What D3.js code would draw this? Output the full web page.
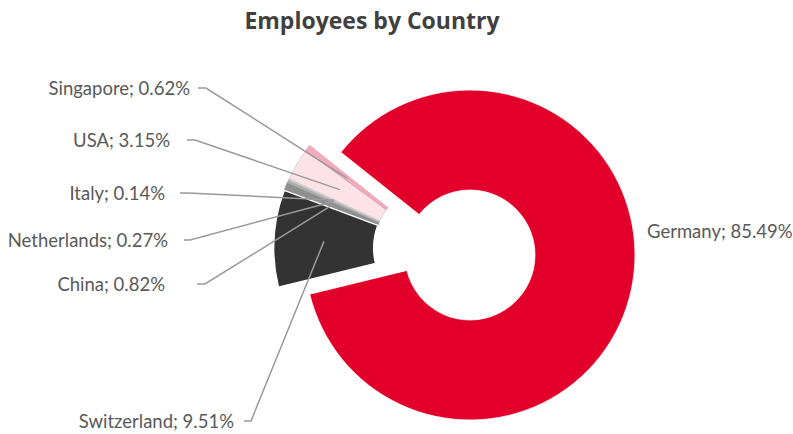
<!DOCTYPE html>
<html>
<head>
<meta charset="utf-8">
<script src="https://cdn.jsdelivr.net/npm/d3@7"></script>
<style>
  html, body { margin: 0; padding: 0; background: #fff; }
  svg { display: block; }
</style>
</head>
<body>
<svg id="chart" width="793" height="434"></svg>
<script>
// ---- data ----
const title = "Employees by Country";
const categories = ["Germany", "Switzerland", "China", "Netherlands", "Italy", "USA", "Singapore"];
const shares = [85.49, 9.51, 0.82, 0.27, 0.14, 3.15, 0.62];

// ---- styles / layout ----
const colors = ["#e2002b", "#333333", "#8f8f8f", "#adadad", "#cacaca", "#fde2e8", "#f5a9bb"];
const strokes = ["#ffffff", "#ffffff", "#8f8f8f", "#adadad", "#cacaca", "#cfcfcf", "#d9a0ae"];
const exploded = [false, true, true, true, true, true, true];
// label anchor (text x, baseline y, anchor), leader line start x and stub end x
const labelLayout = [
  { x: 647, y: 238, anchor: "start", line: false },
  { x: 234, y: 428, anchor: "end", line: true, lx0: 244, lx1: 251 },
  { x: 165, y: 291, anchor: "end", line: true, lx0: 197, lx1: 205 },
  { x: 168, y: 247, anchor: "end", line: true, lx0: 184, lx1: 190 },
  { x: 165, y: 200, anchor: "end", line: true, lx0: 180, lx1: 188 },
  { x: 170, y: 147, anchor: "end", line: true, lx0: 187, lx1: 195 },
  { x: 190, y: 95,  anchor: "end", line: true, lx0: 198, lx1: 206 }
];

const cx = 470, cy = 255;
const outerR = 165, innerR = 65, explodeDist = 32;
const startDeg = 308.5;

const svg = d3.select("#chart");

svg.append("text")
  .attr("x", 372).attr("y", 29)
  .attr("text-anchor", "middle")
  .attr("font-family", "'Open Sans', Lato, sans-serif")
  .attr("font-weight", "bold")
  .attr("font-size", 23)
  .attr("fill", "#404040")
  .text(title);

const data = categories.map((c, i) => ({ name: c, value: shares[i], i }));

const pie = d3.pie()
  .sort(null)
  .value(d => d.value)
  .startAngle(startDeg * Math.PI / 180)
  .endAngle(startDeg * Math.PI / 180 + 2 * Math.PI);

const arc = d3.arc().innerRadius(innerR).outerRadius(outerR);
const arcs = pie(data);

// common explosion direction: middle of the exploded group
const exArcs = arcs.filter(a => exploded[a.data.i]);
const groupMid = (d3.min(exArcs, a => a.startAngle) + d3.max(exArcs, a => a.endAngle)) / 2;
const shift = [Math.sin(groupMid) * explodeDist, -Math.cos(groupMid) * explodeDist];

function offset(a) {
  return exploded[a.data.i] ? shift : [0, 0];
}

const g = svg.append("g").attr("transform", `translate(${cx},${cy})`);

// draw small slices first, Switzerland (white stroke) on top of greys
const drawOrder = [0, 2, 3, 4, 5, 6, 1];
g.selectAll("path.slice")
  .data(drawOrder.map(i => arcs[i]))
  .join("path")
  .attr("class", "slice")
  .attr("transform", d => { const o = offset(d); return `translate(${o[0]},${o[1]})`; })
  .attr("d", arc)
  .attr("fill", d => colors[d.data.i])
  .attr("stroke", d => strokes[d.data.i])
  .attr("stroke-width", d => d.data.i === 1 ? 1.5 : 0.8);

// leader lines
const lines = svg.append("g");
arcs.forEach(a => {
  const L = labelLayout[a.data.i];
  if (!L.line) return;
  const c = arc.centroid(a);
  const o = offset(a);
  const ex = cx + c[0] + o[0], ey = cy + c[1] + o[1];
  const ly = L.y - 7;
  lines.append("path")
    .attr("d", d3.line()([[L.lx0, ly], [L.lx1, ly], [ex, ey]]))
    .attr("fill", "none")
    .attr("stroke", "#9a9a9a")
    .attr("stroke-width", 1.5);
});

// labels
svg.append("g").selectAll("text")
  .data(arcs)
  .join("text")
  .attr("x", d => labelLayout[d.data.i].x)
  .attr("y", d => labelLayout[d.data.i].y)
  .attr("text-anchor", d => labelLayout[d.data.i].anchor)
  .attr("font-family", "Lato, 'Open Sans', sans-serif")
  .attr("font-size", 18.5)
  .attr("fill", "#595959")
  .text(d => `${d.data.name}; ${d.data.value.toFixed(2)}%`);
</script>
</body>
</html>
